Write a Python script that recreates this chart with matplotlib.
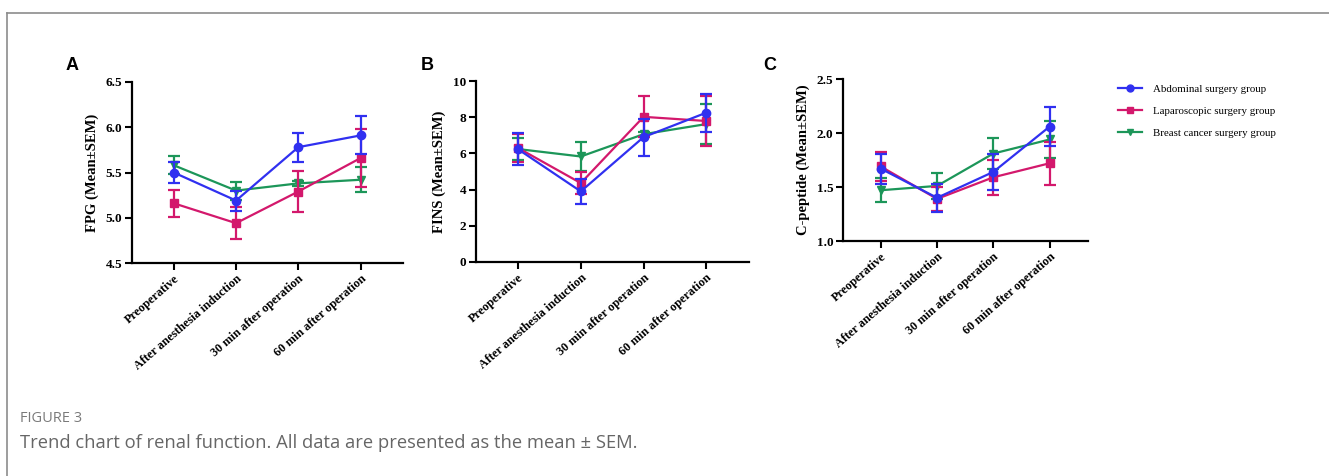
import matplotlib
matplotlib.use("Agg")
import matplotlib.pyplot as plt
import numpy as np
from matplotlib.lines import Line2D

categories = ["Preoperative", "After anesthesia induction",
              "30 min after operation", "60 min after operation"]
groups = ["Abdominal surgery group", "Laparoscopic surgery group",
          "Breast cancer surgery group"]

# Panel A: FPG
fpg_abd = [5.50, 5.19, 5.78, 5.91]
fpg_abd_sem = [0.12, 0.11, 0.16, 0.21]
fpg_lap = [5.16, 4.94, 5.29, 5.66]
fpg_lap_sem = [0.15, 0.18, 0.23, 0.32]
fpg_bre = [5.58, 5.30, 5.38, 5.42]
fpg_bre_sem = [0.10, 0.10, 0.03, 0.14]

# Panel B: FINS
fins_abd = [6.23, 3.90, 6.90, 8.25]
fins_abd_sem = [0.87, 0.68, 1.02, 1.05]
fins_lap = [6.30, 4.36, 8.02, 7.79]
fins_lap_sem = [0.78, 0.62, 1.14, 1.40]
fins_bre = [6.24, 5.83, 7.06, 7.62]
fins_bre_sem = [0.60, 0.80, 0.10, 1.10]

# Panel C: C-peptide
cp_abd = [1.67, 1.40, 1.64, 2.06]
cp_abd_sem = [0.14, 0.13, 0.17, 0.18]
cp_lap = [1.69, 1.39, 1.59, 1.72]
cp_lap_sem = [0.13, 0.11, 0.16, 0.20]
cp_bre = [1.47, 1.51, 1.81, 1.94]
cp_bre_sem = [0.11, 0.12, 0.14, 0.17]

colors = ["#3030F0", "#D3186C", "#1C9659"]
markers = ["o", "s", "v"]

fig = plt.figure(figsize=(13.29, 4.76), dpi=100)
W, H = 1329, 476

def ax_rect(l, r, t, b):
    return [l / W, 1 - b / H, (r - l) / W, (b - t) / H]

panels = [
    dict(rect=ax_rect(132, 403, 82, 263), data=[(fpg_abd, fpg_abd_sem), (fpg_lap, fpg_lap_sem), (fpg_bre, fpg_bre_sem)],
         ylim=(4.5, 6.5), yticks=[4.5, 5.0, 5.5, 6.0, 6.5], fmt="{:.1f}", ylabel="FPG (Mean±SEM)", letter="A", lx=66, ly=65),
    dict(rect=ax_rect(476, 749, 81, 262), data=[(fins_abd, fins_abd_sem), (fins_lap, fins_lap_sem), (fins_bre, fins_bre_sem)],
         ylim=(0, 10), yticks=[0, 2, 4, 6, 8, 10], fmt="{:d}", ylabel="FINS (Mean±SEM)", letter="B", lx=421, ly=65),
    dict(rect=ax_rect(843, 1088, 79, 241), data=[(cp_abd, cp_abd_sem), (cp_lap, cp_lap_sem), (cp_bre, cp_bre_sem)],
         ylim=(1.0, 2.5), yticks=[1.0, 1.5, 2.0, 2.5], fmt="{:.1f}", ylabel="C-peptide (Mean±SEM)", letter="C", lx=763, ly=65),
]

serif = ["Liberation Serif", "DejaVu Serif"]
x = np.arange(len(categories))

for p in panels:
    ax = fig.add_axes(p["rect"])
    order = [2, 1, 0]
    for z, i in enumerate(order):
        vals, sem = p["data"][i]
        ax.errorbar(x, vals, yerr=sem, color=colors[i], marker=markers[i], markersize=6,
                    linewidth=1.6, elinewidth=1.6, capsize=4, capthick=1.6, zorder=3 + z,
                    clip_on=False)
    ax.set_xlim(-0.67, 3.68)
    ax.set_ylim(*p["ylim"])
    ax.set_yticks(p["yticks"])
    ax.set_yticklabels([p["fmt"].format(v) for v in p["yticks"]], fontfamily=serif,
                       fontweight="bold", fontsize=9.5)
    ax.set_xticks(x)
    ax.set_xticklabels(categories, rotation=41, ha="right", rotation_mode="anchor",
                       fontfamily=serif, fontweight="bold", fontsize=8.8)
    ax.set_ylabel(p["ylabel"], fontfamily=serif, fontweight="bold", fontsize=10.5, labelpad=5)
    for s in ["top", "right"]:
        ax.spines[s].set_visible(False)
    for s in ["left", "bottom"]:
        ax.spines[s].set_linewidth(1.6)
    ax.tick_params(axis="both", length=5, width=1.5, pad=2)
    fig.text(p["lx"] / W, 1 - p["ly"] / H, p["letter"], fontfamily=["Liberation Sans", "DejaVu Sans"],
             fontweight="bold", fontsize=13, va="center", ha="left")

# Legend
handles = [Line2D([0], [0], color=colors[i], marker=markers[i], markersize=5, linewidth=1.6)
           for i in range(3)]
fig.legend(handles, groups, loc="upper left", bbox_to_anchor=(1114 / W, 1 - 80 / H),
           frameon=False, prop={"family": serif, "size": 7.8}, handlelength=2.2,
           labelspacing=1.15, handletextpad=1.0, borderaxespad=0)

# Frame lines
fig.add_artist(Line2D([7 / W, 1.0], [1 - 12.5 / H, 1 - 12.5 / H], color="#8c8c8c", linewidth=1.2,
                      transform=fig.transFigure))
fig.add_artist(Line2D([7 / W, 7 / W], [0, 1 - 12.5 / H], color="#8c8c8c", linewidth=1.2,
                      transform=fig.transFigure))

# Caption
fig.text(20 / W, 1 - 418 / H, "FIGURE 3", fontfamily=["Open Sans", "DejaVu Sans"], fontsize=10.5,
         color="#7a7a7a", va="center", ha="left")
fig.text(20 / W, 1 - 443 / H, "Trend chart of renal function. All data are presented as the mean ± SEM.",
         fontfamily=["Open Sans", "DejaVu Sans"], fontsize=13.2, color="#666666", va="center", ha="left")

fig.savefig("out.png", dpi=100)
